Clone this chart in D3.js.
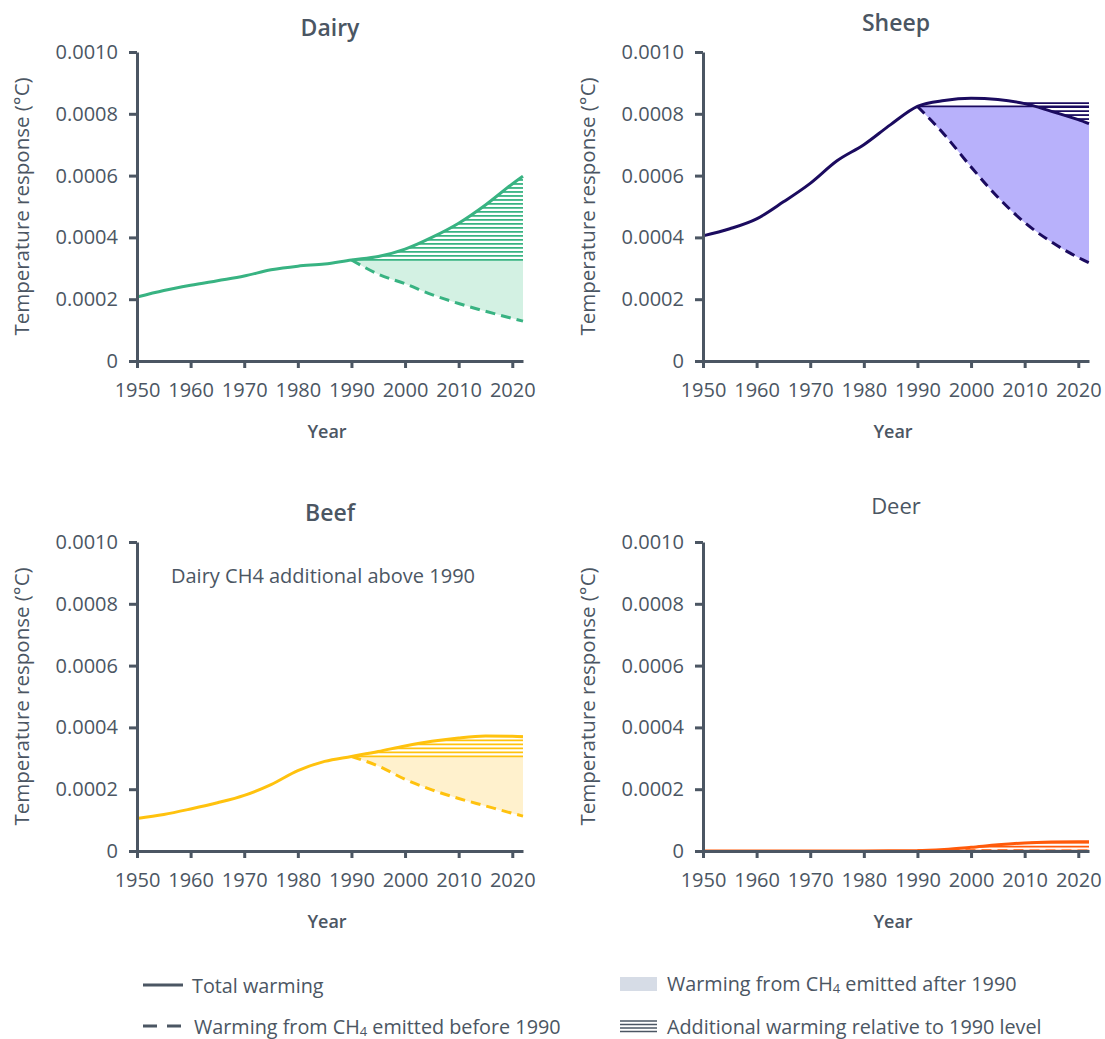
<!DOCTYPE html>
<html>
<head>
<meta charset="utf-8">
<script src="https://cdn.jsdelivr.net/npm/d3@7"></script>
<style>
  body { margin: 0; background: #fff; }
  text { font-family: "Open Sans", "Noto Sans", sans-serif; fill: #4b5663; }
</style>
</head>
<body>
<svg id="chart" width="1105" height="1039"></svg>
<script>
// years for the total warming curves
var years = [1950, 1955, 1960, 1965, 1970, 1975, 1980, 1985, 1990, 1995, 2000, 2005, 2010, 2015, 2020, 2022];
// years for the "emitted before 1990" curves
var postYears = [1990, 1995, 2000, 2005, 2010, 2015, 2020, 2022];

var dairyTotal = [0.000207, 0.000228, 0.000245, 0.000260, 0.000275, 0.000295, 0.000307, 0.000314, 0.000327, 0.000338, 0.000362, 0.000400, 0.000446, 0.000505, 0.000573, 0.000598];
var dairyPre = [0.000327, 0.000281, 0.000250, 0.000215, 0.000186, 0.000161, 0.000138, 0.000129];

var sheepTotal = [0.000405, 0.000428, 0.000460, 0.000515, 0.000575, 0.000648, 0.000700, 0.000765, 0.000824, 0.000843, 0.000850, 0.000846, 0.000833, 0.000808, 0.000781, 0.000768];
var sheepPre = [0.000824, 0.000733, 0.000628, 0.000530, 0.000448, 0.000385, 0.000335, 0.000318];

var beefTotal = [0.000105, 0.000118, 0.000136, 0.000156, 0.000180, 0.000215, 0.000260, 0.000290, 0.000306, 0.000322, 0.000340, 0.000355, 0.000366, 0.000372, 0.000371, 0.000370];
var beefPre = [0.000306, 0.000275, 0.000232, 0.000198, 0.000170, 0.000146, 0.000122, 0.000113];

var deerTotal = [0.0000002, 0.0000002, 0.0000002, 0.0000002, 0.0000002, 0.0000002, 0.0000003, 0.0000005, 0.000001, 0.000005, 0.000012, 0.000020, 0.000026, 0.000029, 0.000030, 0.000030];
var deerPre = [0.000001, 0.0000008, 0.0000006, 0.0000005, 0.0000004, 0.0000003, 0.0000003, 0.0000002];

// hatch bands: [low, high] temperature levels
var dairyHatch = [0.000327, 0.000598];
var sheepHatch = [0.000770, 0.000842];
var beefHatch = [0.000306, 0.000373];
var deerHatch = [0.000001, 0.000031];

var yTicks = [0, 0.0002, 0.0004, 0.0006, 0.0008, 0.0010];
var yTickLabels = ['0', '0.0002', '0.0004', '0.0006', '0.0008', '0.0010'];
var xTicks = [1950, 1960, 1970, 1980, 1990, 2000, 2010, 2020];

var panels = [
  { name: 'Dairy', total: dairyTotal, pre: dairyPre, hatch: dairyHatch, left: 137, top: 52, color: '#38b382', fill: '#d3f1e3', bold: true, titleGap: 25 },
  { name: 'Sheep', total: sheepTotal, pre: sheepPre, hatch: sheepHatch, left: 703, top: 52, color: '#1b0b5f', fill: '#b8b1fb', bold: true, titleGap: 30 },
  { name: 'Beef', total: beefTotal, pre: beefPre, hatch: beefHatch, left: 137, top: 542, color: '#ffc20e', fill: '#fff1cd', bold: true, titleGap: 30, note: 'Dairy CH4 additional above 1990' },
  { name: 'Deer', total: deerTotal, pre: deerPre, hatch: deerHatch, left: 703, top: 542, color: '#ff5a0a', fill: '#ffd9c4', bold: false, titleGap: 37 }
];

var width = 386;
var height = 309;
var axisColor = '#4b5663';
var hatchGap = 4;

var svg = d3.select('#chart');

var xScale = d3.scaleLinear().domain([1950, 2022]).range([0, width]);
var yScale = d3.scaleLinear().domain([0, 0.001]).range([height, 0]);

panels.forEach(function (p) {
  var g = svg.append('g')
    .attr('transform', 'translate(' + p.left + ', ' + p.top + ')');

  var totalPts = years.map(function (yr, i) { return { year: yr, v: p.total[i] }; });
  var base = p.total[years.indexOf(1990)];
  var postPts = postYears.map(function (yr, i) {
    return { year: yr, pre: p.pre[i], total: p.total[years.indexOf(yr)] };
  });

  // fill: warming from CH4 emitted after 1990
  var area = d3.area()
    .x(function (d) { return xScale(d.year); })
    .y0(function (d) { return yScale(d.pre); })
    .y1(function (d) { return yScale(Math.min(d.total, base)); })
    .curve(d3.curveMonotoneX);
  g.append('path')
    .datum(postPts)
    .attr('d', area)
    .attr('fill', p.fill);

  var line = d3.line()
    .x(function (d) { return xScale(d.year); })
    .y(function (d) { return yScale(d.v); })
    .curve(d3.curveMonotoneX);

  var totalPath = g.append('path')
    .datum(totalPts)
    .attr('d', line)
    .attr('fill', 'none')
    .attr('stroke', p.color)
    .attr('stroke-width', 3);

  // sample the drawn total curve after 1990 to find where hatch levels cross it
  var node = totalPath.node();
  var len = node.getTotalLength();
  var samples = [];
  for (var s = 0; s <= 600; s++) {
    var pt = node.getPointAtLength(len * s / 600);
    if (pt.x >= xScale(1990)) samples.push(pt);
  }
  var xEnd = xScale(2022);
  var hatchLevels = [];
  var yLow = yScale(p.hatch[0]);
  var yHigh = yScale(p.hatch[1]);
  for (var yy = yLow; yy >= yHigh - 0.5; yy -= hatchGap) hatchLevels.push(yy);

  var hatchSegs = [];
  hatchLevels.forEach(function (yy) {
    var xs = null;
    for (var k = samples.length - 1; k > 0; k--) {
      var a = samples[k - 1], b = samples[k];
      if ((a.y - yy) * (b.y - yy) <= 0) {
        var t = a.y === b.y ? 0 : (yy - a.y) / (b.y - a.y);
        xs = a.x + t * (b.x - a.x);
        break;
      }
    }
    if (xs === null) {
      if (samples[samples.length - 1].y > yy) xs = samples[samples.length - 1].x;
      else return;
    }
    hatchSegs.push({ x1: xs, x2: xEnd, y: yy });
  });
  // the 1990 level line
  hatchSegs.push({ x1: xScale(1990), x2: xEnd, y: yScale(base) });

  g.selectAll('.hatch')
    .data(hatchSegs)
    .enter()
    .append('line')
    .attr('class', 'hatch')
    .attr('x1', function (d) { return d.x1; })
    .attr('x2', function (d) { return d.x2; })
    .attr('y1', function (d) { return d.y; })
    .attr('y2', function (d) { return d.y; })
    .attr('stroke', p.color)
    .attr('stroke-width', 1.8);

  var preLine = d3.line()
    .x(function (d) { return xScale(d.year); })
    .y(function (d) { return yScale(d.pre); })
    .curve(d3.curveMonotoneX);
  g.append('path')
    .datum(postPts)
    .attr('d', preLine)
    .attr('fill', 'none')
    .attr('stroke', p.color)
    .attr('stroke-width', 3)
    .attr('stroke-dasharray', '10,6');

  totalPath.raise();

  // axes
  var xAxis = d3.axisBottom(xScale)
    .tickValues(xTicks)
    .tickFormat(d3.format('d'))
    .tickSize(7)
    .tickSizeOuter(0)
    .tickPadding(15);
  var yAxis = d3.axisLeft(yScale)
    .tickValues(yTicks)
    .tickFormat(function (d, i) { return yTickLabels[i]; })
    .tickSize(8)
    .tickSizeOuter(0)
    .tickPadding(11);

  var xg = g.append('g')
    .attr('transform', 'translate(0, ' + height + ')')
    .call(xAxis);
  var yg = g.append('g').call(yAxis);

  [xg, yg].forEach(function (ax) {
    ax.select('.domain').attr('stroke', axisColor).attr('stroke-width', 3);
    ax.selectAll('.tick line').attr('stroke', axisColor).attr('stroke-width', 3);
    ax.selectAll('.tick text')
      .attr('fill', '#4b5663')
      .attr('font-size', '20px')
      .attr('font-family', '"Open Sans", sans-serif');
  });

  g.append('text')
    .attr('x', width / 2)
    .attr('y', -p.titleGap)
    .attr('text-anchor', 'middle')
    .attr('dominant-baseline', 'central')
    .attr('font-size', p.bold ? '23px' : '22px')
    .attr('font-weight', p.bold ? 600 : 400)
    .text(p.name);

  g.append('text')
    .attr('x', width / 2 - 3)
    .attr('y', height + 70)
    .attr('text-anchor', 'middle')
    .attr('dominant-baseline', 'central')
    .attr('font-size', '18px')
    .attr('font-weight', 600)
    .text('Year');

  g.append('text')
    .attr('transform', 'translate(' + (-116) + ', ' + (height / 2) + ') rotate(-90)')
    .attr('text-anchor', 'middle')
    .attr('dominant-baseline', 'central')
    .attr('font-size', '20.5px')
    .text('Temperature response (\u00B0C)');

  if (p.note) {
    g.append('text')
      .attr('x', 186)
      .attr('y', 33)
      .attr('text-anchor', 'middle')
      .attr('dominant-baseline', 'central')
      .attr('font-size', '20px')
      .text(p.note);
  }
});

// legend
var legend = svg.append('g');
var legendFont = '19.8px';

legend.append('line')
  .attr('x1', 143).attr('x2', 183).attr('y1', 985).attr('y2', 985)
  .attr('stroke', axisColor).attr('stroke-width', 3);
legend.append('text')
  .attr('x', 192).attr('y', 985)
  .attr('dominant-baseline', 'central')
  .attr('font-size', legendFont)
  .text('Total warming');

legend.append('line')
  .attr('x1', 143).attr('x2', 183).attr('y1', 1026).attr('y2', 1026)
  .attr('stroke', axisColor).attr('stroke-width', 3)
  .attr('stroke-dasharray', '14,10');
var t1 = legend.append('text')
  .attr('x', 194).attr('y', 1026)
  .attr('dominant-baseline', 'central')
  .attr('font-size', legendFont);
t1.append('tspan').text('Warming from CH');
t1.append('tspan').attr('font-size', '13px').attr('dy', 5).text('4');
t1.append('tspan').attr('dy', -5).text(' emitted before 1990');

legend.append('rect')
  .attr('x', 620).attr('y', 977).attr('width', 37).attr('height', 14)
  .attr('fill', '#d6dce6');
var t2 = legend.append('text')
  .attr('x', 667).attr('y', 983)
  .attr('dominant-baseline', 'central')
  .attr('font-size', legendFont);
t2.append('tspan').text('Warming from CH');
t2.append('tspan').attr('font-size', '13px').attr('dy', 5).text('4');
t2.append('tspan').attr('dy', -5).text(' emitted after 1990');

[1021, 1024.5, 1028, 1031.5].forEach(function (yy) {
  legend.append('line')
    .attr('x1', 620).attr('x2', 657).attr('y1', yy).attr('y2', yy)
    .attr('stroke', axisColor).attr('stroke-width', 1.6);
});
legend.append('text')
  .attr('x', 667).attr('y', 1026)
  .attr('dominant-baseline', 'central')
  .attr('font-size', legendFont)
  .text('Additional warming relative to 1990 level');
</script>
</body>
</html>
